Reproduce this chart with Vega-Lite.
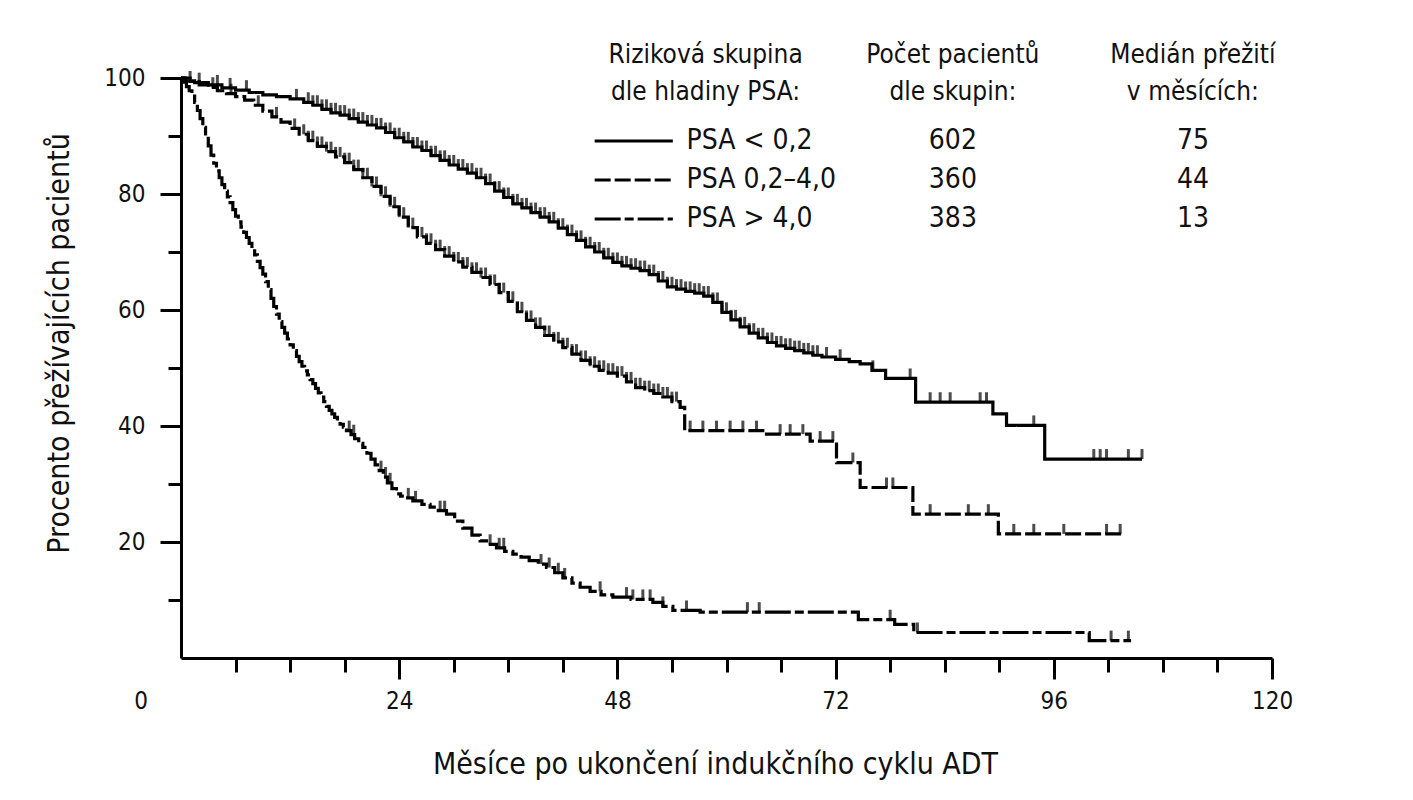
{
  "$schema": "https://vega.github.io/schema/vega-lite/v6.json",
  "width": 1091,
  "height": 580,
  "autosize": {"type": "none"},
  "padding": {"left": 181, "top": 78, "right": 141, "bottom": 142},
  "background": "white",
  "config": {
    "view": {"stroke": null},
    "font": "DejaVu Sans Condensed, sans-serif",
    "axis": {
      "domainColor": "black",
      "domainWidth": 3,
      "tickColor": "black",
      "tickWidth": 3,
      "labelColor": "#111111",
      "titleColor": "#111111",
      "labelFont": "DejaVu Sans Condensed, sans-serif",
      "titleFont": "DejaVu Sans Condensed, sans-serif",
      "labelFontSize": 24,
      "titleFontSize": 30,
      "titleFontWeight": "normal",
      "grid": false,
      "labelOverlap": false,
      "labelFlush": false
    }
  },
  "datasets": {
    "curves": [
      {"group": "a", "month": 0, "pct": 100}, {"group": "a", "month": 0.5, "pct": 99.5}, {"group": "a", "month": 1.5, "pct": 99.2},
      {"group": "a", "month": 3, "pct": 98.8}, {"group": "a", "month": 4.5, "pct": 98.3}, {"group": "a", "month": 6, "pct": 97.9},
      {"group": "a", "month": 7.5, "pct": 97.5}, {"group": "a", "month": 9, "pct": 97.1}, {"group": "a", "month": 10.5, "pct": 96.8},
      {"group": "a", "month": 12, "pct": 96.4}, {"group": "a", "month": 13.5, "pct": 95.8}, {"group": "a", "month": 14.5, "pct": 95.3},
      {"group": "a", "month": 15.5, "pct": 94.6}, {"group": "a", "month": 16.5, "pct": 94.0}, {"group": "a", "month": 17.5, "pct": 93.6},
      {"group": "a", "month": 18.5, "pct": 93.0}, {"group": "a", "month": 19.5, "pct": 92.4}, {"group": "a", "month": 20.5, "pct": 91.9},
      {"group": "a", "month": 21.5, "pct": 91.4}, {"group": "a", "month": 22.5, "pct": 90.6}, {"group": "a", "month": 23.5, "pct": 89.7},
      {"group": "a", "month": 24.5, "pct": 89.0}, {"group": "a", "month": 25.5, "pct": 88.1}, {"group": "a", "month": 26.5, "pct": 87.5},
      {"group": "a", "month": 27.5, "pct": 86.6}, {"group": "a", "month": 28.5, "pct": 85.8}, {"group": "a", "month": 29.5, "pct": 85.0},
      {"group": "a", "month": 30.5, "pct": 84.3}, {"group": "a", "month": 31.5, "pct": 83.6}, {"group": "a", "month": 32.5, "pct": 82.8},
      {"group": "a", "month": 33.5, "pct": 81.8}, {"group": "a", "month": 34.5, "pct": 80.5}, {"group": "a", "month": 35.5, "pct": 79.4},
      {"group": "a", "month": 36.5, "pct": 78.3}, {"group": "a", "month": 37.5, "pct": 77.6}, {"group": "a", "month": 38.5, "pct": 76.8},
      {"group": "a", "month": 39.5, "pct": 76.0}, {"group": "a", "month": 40.5, "pct": 75.2}, {"group": "a", "month": 41.5, "pct": 74.1},
      {"group": "a", "month": 42.5, "pct": 73.0}, {"group": "a", "month": 43.5, "pct": 72.0}, {"group": "a", "month": 44.5, "pct": 70.9},
      {"group": "a", "month": 45.5, "pct": 70.0}, {"group": "a", "month": 46.5, "pct": 69.0}, {"group": "a", "month": 47.5, "pct": 68.2},
      {"group": "a", "month": 48.5, "pct": 67.6}, {"group": "a", "month": 49.5, "pct": 67.2}, {"group": "a", "month": 50.5, "pct": 66.8},
      {"group": "a", "month": 51.5, "pct": 66.1}, {"group": "a", "month": 52.5, "pct": 65.0}, {"group": "a", "month": 53.5, "pct": 64.0},
      {"group": "a", "month": 54.5, "pct": 63.6}, {"group": "a", "month": 55.5, "pct": 63.2}, {"group": "a", "month": 56.5, "pct": 62.9},
      {"group": "a", "month": 57.5, "pct": 62.4}, {"group": "a", "month": 58.5, "pct": 61.3}, {"group": "a", "month": 59.5, "pct": 59.6},
      {"group": "a", "month": 60.5, "pct": 58.3}, {"group": "a", "month": 61.5, "pct": 57.1}, {"group": "a", "month": 62.5, "pct": 56.0},
      {"group": "a", "month": 63.5, "pct": 55.2}, {"group": "a", "month": 64.5, "pct": 54.4}, {"group": "a", "month": 65.5, "pct": 53.8},
      {"group": "a", "month": 66.5, "pct": 53.4}, {"group": "a", "month": 67.5, "pct": 53.0}, {"group": "a", "month": 68.5, "pct": 52.6},
      {"group": "a", "month": 69.5, "pct": 52.2}, {"group": "a", "month": 70.5, "pct": 51.9}, {"group": "a", "month": 72, "pct": 51.5},
      {"group": "a", "month": 73.5, "pct": 51.1}, {"group": "a", "month": 74.7, "pct": 50.7}, {"group": "a", "month": 76, "pct": 49.6},
      {"group": "a", "month": 77.5, "pct": 48.2}, {"group": "a", "month": 80.8, "pct": 44.1}, {"group": "a", "month": 89.3, "pct": 42.1},
      {"group": "a", "month": 90.8, "pct": 40.1}, {"group": "a", "month": 95.0, "pct": 34.3}, {"group": "a", "month": 105.7, "pct": 34.3},

      {"group": "b", "month": 0, "pct": 100}, {"group": "b", "month": 1, "pct": 99.4}, {"group": "b", "month": 2, "pct": 98.8},
      {"group": "b", "month": 3, "pct": 98.4}, {"group": "b", "month": 4, "pct": 97.8}, {"group": "b", "month": 5, "pct": 97.3},
      {"group": "b", "month": 6, "pct": 96.8}, {"group": "b", "month": 7, "pct": 96.2}, {"group": "b", "month": 8, "pct": 95.3},
      {"group": "b", "month": 9, "pct": 94.3}, {"group": "b", "month": 10, "pct": 93.3}, {"group": "b", "month": 11, "pct": 92.4},
      {"group": "b", "month": 12, "pct": 91.3}, {"group": "b", "month": 13, "pct": 90.3}, {"group": "b", "month": 14, "pct": 89.2},
      {"group": "b", "month": 15, "pct": 88.2}, {"group": "b", "month": 16, "pct": 87.3}, {"group": "b", "month": 17, "pct": 86.4},
      {"group": "b", "month": 18, "pct": 85.4}, {"group": "b", "month": 19, "pct": 84.2}, {"group": "b", "month": 20, "pct": 82.8},
      {"group": "b", "month": 21, "pct": 81.3}, {"group": "b", "month": 22, "pct": 79.6}, {"group": "b", "month": 23, "pct": 77.8},
      {"group": "b", "month": 24, "pct": 76.0}, {"group": "b", "month": 25, "pct": 74.2}, {"group": "b", "month": 26, "pct": 72.6},
      {"group": "b", "month": 27, "pct": 71.5}, {"group": "b", "month": 28, "pct": 70.4}, {"group": "b", "month": 29, "pct": 69.3},
      {"group": "b", "month": 30, "pct": 68.3}, {"group": "b", "month": 31, "pct": 67.4}, {"group": "b", "month": 32, "pct": 66.5},
      {"group": "b", "month": 33, "pct": 65.6}, {"group": "b", "month": 34, "pct": 64.4}, {"group": "b", "month": 35, "pct": 63.0},
      {"group": "b", "month": 36, "pct": 61.5}, {"group": "b", "month": 37, "pct": 59.7}, {"group": "b", "month": 38, "pct": 58.2},
      {"group": "b", "month": 39, "pct": 57.0}, {"group": "b", "month": 40, "pct": 55.6}, {"group": "b", "month": 41, "pct": 54.5},
      {"group": "b", "month": 42, "pct": 53.5}, {"group": "b", "month": 43, "pct": 52.4}, {"group": "b", "month": 44, "pct": 51.3},
      {"group": "b", "month": 45, "pct": 50.3}, {"group": "b", "month": 46, "pct": 49.6}, {"group": "b", "month": 47, "pct": 49.1},
      {"group": "b", "month": 48, "pct": 48.6}, {"group": "b", "month": 49, "pct": 47.6}, {"group": "b", "month": 50, "pct": 46.6},
      {"group": "b", "month": 51, "pct": 46.1}, {"group": "b", "month": 52, "pct": 45.6}, {"group": "b", "month": 53, "pct": 45.0},
      {"group": "b", "month": 54, "pct": 44.2}, {"group": "b", "month": 54.9, "pct": 43.2}, {"group": "b", "month": 55.4, "pct": 39.2},
      {"group": "b", "month": 64.4, "pct": 38.6}, {"group": "b", "month": 69.2, "pct": 37.4}, {"group": "b", "month": 72.1, "pct": 33.7},
      {"group": "b", "month": 74.7, "pct": 29.4}, {"group": "b", "month": 80.5, "pct": 24.8}, {"group": "b", "month": 89.9, "pct": 21.4},
      {"group": "b", "month": 103.5, "pct": 21.4},

      {"group": "c", "month": 0, "pct": 100}, {"group": "c", "month": 0.3, "pct": 99.3}, {"group": "c", "month": 0.6, "pct": 98.5},
      {"group": "c", "month": 0.9, "pct": 97.8}, {"group": "c", "month": 1.2, "pct": 96.9}, {"group": "c", "month": 1.5, "pct": 95.8},
      {"group": "c", "month": 1.8, "pct": 94.4}, {"group": "c", "month": 2.1, "pct": 93.0}, {"group": "c", "month": 2.4, "pct": 91.5},
      {"group": "c", "month": 2.7, "pct": 90.0}, {"group": "c", "month": 3.0, "pct": 88.3}, {"group": "c", "month": 3.3, "pct": 86.7},
      {"group": "c", "month": 3.6, "pct": 85.3}, {"group": "c", "month": 3.9, "pct": 84.0}, {"group": "c", "month": 4.2, "pct": 82.8},
      {"group": "c", "month": 4.5, "pct": 81.6}, {"group": "c", "month": 4.8, "pct": 80.5}, {"group": "c", "month": 5.1, "pct": 79.5},
      {"group": "c", "month": 5.4, "pct": 78.5}, {"group": "c", "month": 5.7, "pct": 77.3}, {"group": "c", "month": 6.0, "pct": 76.2},
      {"group": "c", "month": 6.3, "pct": 75.2}, {"group": "c", "month": 6.6, "pct": 74.3}, {"group": "c", "month": 6.9, "pct": 73.4},
      {"group": "c", "month": 7.2, "pct": 72.5}, {"group": "c", "month": 7.5, "pct": 71.5}, {"group": "c", "month": 7.8, "pct": 70.5},
      {"group": "c", "month": 8.1, "pct": 69.5}, {"group": "c", "month": 8.4, "pct": 68.4}, {"group": "c", "month": 8.7, "pct": 67.3},
      {"group": "c", "month": 9.0, "pct": 66.2}, {"group": "c", "month": 9.3, "pct": 64.9}, {"group": "c", "month": 9.6, "pct": 63.5},
      {"group": "c", "month": 9.9, "pct": 62.0}, {"group": "c", "month": 10.2, "pct": 60.6}, {"group": "c", "month": 10.5, "pct": 59.3},
      {"group": "c", "month": 10.8, "pct": 58.0}, {"group": "c", "month": 11.1, "pct": 57.0}, {"group": "c", "month": 11.4, "pct": 56.0},
      {"group": "c", "month": 11.7, "pct": 55.0}, {"group": "c", "month": 12.0, "pct": 54.0}, {"group": "c", "month": 12.35, "pct": 53.0},
      {"group": "c", "month": 12.7, "pct": 52.0}, {"group": "c", "month": 13.0, "pct": 51.1}, {"group": "c", "month": 13.3, "pct": 50.3},
      {"group": "c", "month": 13.6, "pct": 49.5}, {"group": "c", "month": 13.9, "pct": 48.8}, {"group": "c", "month": 14.2, "pct": 48.0},
      {"group": "c", "month": 14.5, "pct": 47.3}, {"group": "c", "month": 14.8, "pct": 46.5}, {"group": "c", "month": 15.1, "pct": 45.7},
      {"group": "c", "month": 15.4, "pct": 45.0}, {"group": "c", "month": 15.7, "pct": 44.2}, {"group": "c", "month": 16.0, "pct": 43.4},
      {"group": "c", "month": 16.3, "pct": 42.7}, {"group": "c", "month": 16.6, "pct": 42.1}, {"group": "c", "month": 16.9, "pct": 41.5},
      {"group": "c", "month": 17.2, "pct": 40.9}, {"group": "c", "month": 17.5, "pct": 40.3}, {"group": "c", "month": 17.85, "pct": 39.8},
      {"group": "c", "month": 18.2, "pct": 39.2}, {"group": "c", "month": 18.7, "pct": 38.5}, {"group": "c", "month": 19.1, "pct": 37.8},
      {"group": "c", "month": 19.55, "pct": 37.0}, {"group": "c", "month": 20.0, "pct": 36.3}, {"group": "c", "month": 20.45, "pct": 35.3},
      {"group": "c", "month": 20.9, "pct": 34.3}, {"group": "c", "month": 21.35, "pct": 33.3}, {"group": "c", "month": 21.8, "pct": 32.3},
      {"group": "c", "month": 22.25, "pct": 31.2}, {"group": "c", "month": 22.7, "pct": 30.2}, {"group": "c", "month": 23.2, "pct": 29.2},
      {"group": "c", "month": 23.7, "pct": 28.3}, {"group": "c", "month": 24.15, "pct": 27.9}, {"group": "c", "month": 24.6, "pct": 27.6},
      {"group": "c", "month": 25.5, "pct": 27.1}, {"group": "c", "month": 26.5, "pct": 26.5}, {"group": "c", "month": 27.4, "pct": 26.0},
      {"group": "c", "month": 28.3, "pct": 25.4}, {"group": "c", "month": 29.2, "pct": 24.8}, {"group": "c", "month": 30.1, "pct": 23.6},
      {"group": "c", "month": 31, "pct": 22.4}, {"group": "c", "month": 32, "pct": 21.2}, {"group": "c", "month": 32.9, "pct": 20.2},
      {"group": "c", "month": 33.8, "pct": 19.6}, {"group": "c", "month": 34.7, "pct": 19.0}, {"group": "c", "month": 35.6, "pct": 18.4},
      {"group": "c", "month": 36.5, "pct": 17.9}, {"group": "c", "month": 37.4, "pct": 17.4}, {"group": "c", "month": 38.3, "pct": 16.8},
      {"group": "c", "month": 39.3, "pct": 16.2}, {"group": "c", "month": 40.2, "pct": 15.6}, {"group": "c", "month": 41.1, "pct": 14.7},
      {"group": "c", "month": 42, "pct": 13.8}, {"group": "c", "month": 43, "pct": 12.9}, {"group": "c", "month": 43.9, "pct": 12.2},
      {"group": "c", "month": 45, "pct": 11.5}, {"group": "c", "month": 46.2, "pct": 10.9}, {"group": "c", "month": 47.5, "pct": 10.5},
      {"group": "c", "month": 49.5, "pct": 10.1}, {"group": "c", "month": 51.9, "pct": 9.6}, {"group": "c", "month": 53, "pct": 8.9},
      {"group": "c", "month": 54.1, "pct": 8.2}, {"group": "c", "month": 57.1, "pct": 7.9}, {"group": "c", "month": 74.5, "pct": 6.6},
      {"group": "c", "month": 78.5, "pct": 5.8}, {"group": "c", "month": 80.6, "pct": 4.4}, {"group": "c", "month": 99.9, "pct": 3.0},
      {"group": "c", "month": 104.5, "pct": 3.0}
    ],
    "censor": [
      {"group": "a", "month": 1, "pct": 99.5}, {"group": "a", "month": 2, "pct": 99.2}, {"group": "a", "month": 4, "pct": 98.8},
      {"group": "a", "month": 5.4, "pct": 98.3}, {"group": "a", "month": 7.2, "pct": 97.9}, {"group": "a", "month": 12.7, "pct": 96.4},
      {"group": "a", "month": 14, "pct": 95.8}, {"group": "a", "month": 14.5, "pct": 95.3}, {"group": "a", "month": 15, "pct": 95.3},
      {"group": "a", "month": 15.5, "pct": 94.6}, {"group": "a", "month": 16, "pct": 94.6}, {"group": "a", "month": 16.5, "pct": 94.0},
      {"group": "a", "month": 17, "pct": 94.0}, {"group": "a", "month": 17.5, "pct": 93.6}, {"group": "a", "month": 18, "pct": 93.6},
      {"group": "a", "month": 18.5, "pct": 93.0}, {"group": "a", "month": 19, "pct": 93.0}, {"group": "a", "month": 19.5, "pct": 92.4},
      {"group": "a", "month": 20, "pct": 92.4}, {"group": "a", "month": 20.5, "pct": 91.9}, {"group": "a", "month": 21, "pct": 91.9},
      {"group": "a", "month": 21.5, "pct": 91.4}, {"group": "a", "month": 22, "pct": 91.4}, {"group": "a", "month": 22.5, "pct": 90.6},
      {"group": "a", "month": 23, "pct": 90.6}, {"group": "a", "month": 23.5, "pct": 89.7}, {"group": "a", "month": 24, "pct": 89.7},
      {"group": "a", "month": 24.5, "pct": 89.0}, {"group": "a", "month": 25, "pct": 89.0}, {"group": "a", "month": 25.5, "pct": 88.1},
      {"group": "a", "month": 26, "pct": 88.1}, {"group": "a", "month": 26.5, "pct": 87.5}, {"group": "a", "month": 27, "pct": 87.5},
      {"group": "a", "month": 27.5, "pct": 86.6}, {"group": "a", "month": 28, "pct": 86.6}, {"group": "a", "month": 28.5, "pct": 85.8},
      {"group": "a", "month": 29, "pct": 85.8}, {"group": "a", "month": 29.5, "pct": 85.0}, {"group": "a", "month": 30, "pct": 85.0},
      {"group": "a", "month": 30.5, "pct": 84.3}, {"group": "a", "month": 31, "pct": 84.3}, {"group": "a", "month": 31.5, "pct": 83.6},
      {"group": "a", "month": 32, "pct": 83.6}, {"group": "a", "month": 32.5, "pct": 82.8}, {"group": "a", "month": 33, "pct": 82.8},
      {"group": "a", "month": 33.5, "pct": 81.8}, {"group": "a", "month": 34, "pct": 81.8}, {"group": "a", "month": 34.5, "pct": 80.5},
      {"group": "a", "month": 35, "pct": 80.5}, {"group": "a", "month": 35.5, "pct": 79.4}, {"group": "a", "month": 36, "pct": 79.4},
      {"group": "a", "month": 36.5, "pct": 78.3}, {"group": "a", "month": 37, "pct": 78.3}, {"group": "a", "month": 37.5, "pct": 77.6},
      {"group": "a", "month": 38, "pct": 77.6}, {"group": "a", "month": 38.5, "pct": 76.8}, {"group": "a", "month": 39, "pct": 76.8},
      {"group": "a", "month": 39.5, "pct": 76.0}, {"group": "a", "month": 40, "pct": 76.0}, {"group": "a", "month": 40.5, "pct": 75.2},
      {"group": "a", "month": 41, "pct": 75.2}, {"group": "a", "month": 41.5, "pct": 74.1}, {"group": "a", "month": 42, "pct": 74.1},
      {"group": "a", "month": 42.5, "pct": 73.0}, {"group": "a", "month": 43, "pct": 73.0}, {"group": "a", "month": 43.5, "pct": 72.0},
      {"group": "a", "month": 44, "pct": 72.0}, {"group": "a", "month": 44.5, "pct": 70.9}, {"group": "a", "month": 45, "pct": 70.9},
      {"group": "a", "month": 45.5, "pct": 70.0}, {"group": "a", "month": 46, "pct": 70.0}, {"group": "a", "month": 46.5, "pct": 69.0},
      {"group": "a", "month": 47, "pct": 69.0}, {"group": "a", "month": 47.5, "pct": 68.2}, {"group": "a", "month": 48, "pct": 68.2},
      {"group": "a", "month": 48.5, "pct": 67.6}, {"group": "a", "month": 49, "pct": 67.6}, {"group": "a", "month": 49.5, "pct": 67.2},
      {"group": "a", "month": 50, "pct": 67.2}, {"group": "a", "month": 50.5, "pct": 66.8}, {"group": "a", "month": 51, "pct": 66.8},
      {"group": "a", "month": 51.5, "pct": 66.1}, {"group": "a", "month": 52, "pct": 66.1}, {"group": "a", "month": 52.5, "pct": 65.0},
      {"group": "a", "month": 53, "pct": 65.0}, {"group": "a", "month": 53.5, "pct": 64.0}, {"group": "a", "month": 54, "pct": 64.0},
      {"group": "a", "month": 54.5, "pct": 63.6}, {"group": "a", "month": 55, "pct": 63.6}, {"group": "a", "month": 55.5, "pct": 63.2},
      {"group": "a", "month": 56, "pct": 63.2}, {"group": "a", "month": 56.5, "pct": 62.9}, {"group": "a", "month": 57, "pct": 62.9},
      {"group": "a", "month": 57.5, "pct": 62.4}, {"group": "a", "month": 58, "pct": 62.4}, {"group": "a", "month": 58.5, "pct": 61.3},
      {"group": "a", "month": 59, "pct": 61.3}, {"group": "a", "month": 59.5, "pct": 59.6}, {"group": "a", "month": 60, "pct": 59.6},
      {"group": "a", "month": 60.5, "pct": 58.3}, {"group": "a", "month": 61, "pct": 58.3}, {"group": "a", "month": 61.5, "pct": 57.1},
      {"group": "a", "month": 62, "pct": 57.1}, {"group": "a", "month": 62.5, "pct": 56.0}, {"group": "a", "month": 63, "pct": 56.0},
      {"group": "a", "month": 63.5, "pct": 55.2}, {"group": "a", "month": 64, "pct": 55.2}, {"group": "a", "month": 64.5, "pct": 54.4},
      {"group": "a", "month": 65, "pct": 54.4}, {"group": "a", "month": 65.5, "pct": 53.8}, {"group": "a", "month": 66, "pct": 53.8},
      {"group": "a", "month": 66.5, "pct": 53.4}, {"group": "a", "month": 67, "pct": 53.4}, {"group": "a", "month": 67.5, "pct": 53.0},
      {"group": "a", "month": 68, "pct": 53.0}, {"group": "a", "month": 68.5, "pct": 52.6}, {"group": "a", "month": 69, "pct": 52.6},
      {"group": "a", "month": 69.5, "pct": 52.2}, {"group": "a", "month": 70, "pct": 52.2}, {"group": "a", "month": 71, "pct": 51.9},
      {"group": "a", "month": 72.5, "pct": 51.5}, {"group": "a", "month": 76.1, "pct": 49.6}, {"group": "a", "month": 80.2, "pct": 48.2},
      {"group": "a", "month": 82.4, "pct": 44.1}, {"group": "a", "month": 83.5, "pct": 44.1}, {"group": "a", "month": 84.6, "pct": 44.1},
      {"group": "a", "month": 87.9, "pct": 44.1}, {"group": "a", "month": 88.6, "pct": 44.1}, {"group": "a", "month": 93.8, "pct": 40.1},
      {"group": "a", "month": 100.4, "pct": 34.3}, {"group": "a", "month": 101.1, "pct": 34.3}, {"group": "a", "month": 101.8, "pct": 34.3},
      {"group": "a", "month": 104.2, "pct": 34.3}, {"group": "a", "month": 105.7, "pct": 34.3},

      {"group": "b", "month": 3.5, "pct": 98.4}, {"group": "b", "month": 5.5, "pct": 97.3}, {"group": "b", "month": 8.5, "pct": 95.3},
      {"group": "b", "month": 10.5, "pct": 93.3}, {"group": "b", "month": 12.5, "pct": 91.3}, {"group": "b", "month": 13.5, "pct": 90.3},
      {"group": "b", "month": 14, "pct": 89.2}, {"group": "b", "month": 14.5, "pct": 89.2}, {"group": "b", "month": 15, "pct": 88.2},
      {"group": "b", "month": 15.5, "pct": 88.2}, {"group": "b", "month": 16, "pct": 87.3}, {"group": "b", "month": 16.5, "pct": 87.3},
      {"group": "b", "month": 17, "pct": 86.4}, {"group": "b", "month": 17.5, "pct": 86.4}, {"group": "b", "month": 18, "pct": 85.4},
      {"group": "b", "month": 18.5, "pct": 85.4}, {"group": "b", "month": 19, "pct": 84.2}, {"group": "b", "month": 19.5, "pct": 84.2},
      {"group": "b", "month": 20, "pct": 82.8}, {"group": "b", "month": 20.5, "pct": 82.8}, {"group": "b", "month": 21, "pct": 81.3},
      {"group": "b", "month": 21.5, "pct": 81.3}, {"group": "b", "month": 22, "pct": 79.6}, {"group": "b", "month": 22.5, "pct": 79.6},
      {"group": "b", "month": 23, "pct": 77.8}, {"group": "b", "month": 23.5, "pct": 77.8}, {"group": "b", "month": 24, "pct": 76.0},
      {"group": "b", "month": 24.5, "pct": 76.0}, {"group": "b", "month": 25, "pct": 74.2}, {"group": "b", "month": 25.5, "pct": 74.2},
      {"group": "b", "month": 26, "pct": 72.6}, {"group": "b", "month": 26.5, "pct": 72.6}, {"group": "b", "month": 27, "pct": 71.5},
      {"group": "b", "month": 27.5, "pct": 71.5}, {"group": "b", "month": 28, "pct": 70.4}, {"group": "b", "month": 28.5, "pct": 70.4},
      {"group": "b", "month": 29, "pct": 69.3}, {"group": "b", "month": 29.5, "pct": 69.3}, {"group": "b", "month": 30, "pct": 68.3},
      {"group": "b", "month": 30.5, "pct": 68.3}, {"group": "b", "month": 31, "pct": 67.4}, {"group": "b", "month": 31.5, "pct": 67.4},
      {"group": "b", "month": 32, "pct": 66.5}, {"group": "b", "month": 32.5, "pct": 66.5}, {"group": "b", "month": 33, "pct": 65.6},
      {"group": "b", "month": 33.5, "pct": 65.6}, {"group": "b", "month": 34, "pct": 64.4}, {"group": "b", "month": 34.5, "pct": 64.4},
      {"group": "b", "month": 35, "pct": 63.0}, {"group": "b", "month": 35.5, "pct": 63.0}, {"group": "b", "month": 36, "pct": 61.5},
      {"group": "b", "month": 36.5, "pct": 61.5}, {"group": "b", "month": 37, "pct": 59.7}, {"group": "b", "month": 37.5, "pct": 59.7},
      {"group": "b", "month": 38, "pct": 58.2}, {"group": "b", "month": 38.5, "pct": 58.2}, {"group": "b", "month": 39, "pct": 57.0},
      {"group": "b", "month": 39.5, "pct": 57.0}, {"group": "b", "month": 40, "pct": 55.6}, {"group": "b", "month": 40.5, "pct": 55.6},
      {"group": "b", "month": 41, "pct": 54.5}, {"group": "b", "month": 41.5, "pct": 54.5}, {"group": "b", "month": 42, "pct": 53.5},
      {"group": "b", "month": 42.5, "pct": 53.5}, {"group": "b", "month": 43, "pct": 52.4}, {"group": "b", "month": 43.5, "pct": 52.4},
      {"group": "b", "month": 44, "pct": 51.3}, {"group": "b", "month": 44.5, "pct": 51.3}, {"group": "b", "month": 45, "pct": 50.3},
      {"group": "b", "month": 45.5, "pct": 50.3}, {"group": "b", "month": 46, "pct": 49.6}, {"group": "b", "month": 46.5, "pct": 49.6},
      {"group": "b", "month": 47, "pct": 49.1}, {"group": "b", "month": 47.5, "pct": 49.1}, {"group": "b", "month": 48, "pct": 48.6},
      {"group": "b", "month": 48.5, "pct": 48.6}, {"group": "b", "month": 49, "pct": 47.6}, {"group": "b", "month": 49.5, "pct": 47.6},
      {"group": "b", "month": 50, "pct": 46.6}, {"group": "b", "month": 50.5, "pct": 46.6}, {"group": "b", "month": 51, "pct": 46.1},
      {"group": "b", "month": 51.5, "pct": 46.1}, {"group": "b", "month": 52, "pct": 45.6}, {"group": "b", "month": 52.5, "pct": 45.6},
      {"group": "b", "month": 53, "pct": 45.0}, {"group": "b", "month": 53.5, "pct": 45.0}, {"group": "b", "month": 54, "pct": 44.2},
      {"group": "b", "month": 54.5, "pct": 44.2}, {"group": "b", "month": 56.0, "pct": 39.2}, {"group": "b", "month": 57.4, "pct": 39.2},
      {"group": "b", "month": 58.9, "pct": 39.2}, {"group": "b", "month": 60.4, "pct": 39.2}, {"group": "b", "month": 61.8, "pct": 39.2},
      {"group": "b", "month": 63.3, "pct": 39.2}, {"group": "b", "month": 65.9, "pct": 38.6}, {"group": "b", "month": 67.0, "pct": 38.6},
      {"group": "b", "month": 68.4, "pct": 38.6}, {"group": "b", "month": 70.3, "pct": 37.4}, {"group": "b", "month": 71.7, "pct": 37.4},
      {"group": "b", "month": 73.9, "pct": 33.7}, {"group": "b", "month": 77.6, "pct": 29.4}, {"group": "b", "month": 78.3, "pct": 29.4},
      {"group": "b", "month": 82.4, "pct": 24.8}, {"group": "b", "month": 86.6, "pct": 24.8}, {"group": "b", "month": 88.8, "pct": 24.8},
      {"group": "b", "month": 91.6, "pct": 21.4}, {"group": "b", "month": 93.8, "pct": 21.4}, {"group": "b", "month": 97.1, "pct": 21.4},
      {"group": "b", "month": 101.8, "pct": 21.4}, {"group": "b", "month": 103.3, "pct": 21.4},

      {"group": "c", "month": 18.5, "pct": 39.2}, {"group": "c", "month": 19.0, "pct": 38.5}, {"group": "c", "month": 22.0, "pct": 32.3},
      {"group": "c", "month": 22.5, "pct": 31.2}, {"group": "c", "month": 23.0, "pct": 30.2}, {"group": "c", "month": 25.0, "pct": 27.6},
      {"group": "c", "month": 25.8, "pct": 27.1}, {"group": "c", "month": 28.5, "pct": 25.4}, {"group": "c", "month": 29.0, "pct": 25.4},
      {"group": "c", "month": 34.0, "pct": 19.6}, {"group": "c", "month": 35.0, "pct": 19.0}, {"group": "c", "month": 35.5, "pct": 19.0},
      {"group": "c", "month": 39.6, "pct": 16.2}, {"group": "c", "month": 40.5, "pct": 15.6}, {"group": "c", "month": 41.5, "pct": 14.7},
      {"group": "c", "month": 42.2, "pct": 13.8}, {"group": "c", "month": 46.1, "pct": 11.5}, {"group": "c", "month": 49.0, "pct": 10.5},
      {"group": "c", "month": 49.7, "pct": 10.1}, {"group": "c", "month": 50.8, "pct": 10.1}, {"group": "c", "month": 51.6, "pct": 10.1},
      {"group": "c", "month": 53.0, "pct": 8.9}, {"group": "c", "month": 55.6, "pct": 8.2}, {"group": "c", "month": 62.3, "pct": 7.9},
      {"group": "c", "month": 63.6, "pct": 7.9}, {"group": "c", "month": 78.0, "pct": 6.6}, {"group": "c", "month": 81.0, "pct": 4.4},
      {"group": "c", "month": 102.3, "pct": 3.0}, {"group": "c", "month": 104.2, "pct": 3.0}
    ],
    "table": [
      {"group": "a", "label": "PSA < 0,2", "n": 602, "median": 75},
      {"group": "b", "label": "PSA 0,2–4,0", "n": 360, "median": 44},
      {"group": "c", "label": "PSA > 4,0", "n": 383, "median": 13}
    ]
  },
  "resolve": {"scale": {"y": "independent"}},
  "layer": [
    {
      "layer": [
        {
          "data": {"name": "curves"},
          "mark": {"type": "line", "interpolate": "step-after", "strokeWidth": 3.2, "color": "black"},
          "encoding": {
            "x": {
              "field": "month",
              "type": "quantitative",
              "scale": {"domain": [0, 120], "nice": false},
              "axis": {
                "values": [6, 12, 18, 24, 30, 36, 42, 48, 54, 60, 66, 72, 78, 84, 90, 96, 102, 108, 114, 120],
                "labelExpr": "datum.value % 24 === 0 ? datum.label : ''",
                "tickSize": {"condition": {"test": "datum.value % 24 === 0", "value": 21}, "value": 14},
                "labelPadding": 10,
                "title": "Měsíce po ukončení indukčního cyklu ADT",
                "titleX": 534,
                "titleY": 106,
                "titleAlign": "center",
                "titleBaseline": "middle"
              }
            },
            "y": {
              "field": "pct",
              "type": "quantitative",
              "scale": {"domain": [0, 100], "nice": false},
              "axis": {
                "values": [10, 20, 30, 40, 50, 60, 70, 80, 90, 100],
                "labelExpr": "datum.value % 20 === 0 ? datum.label : ''",
                "tickSize": {"condition": {"test": "datum.value % 20 === 0", "value": 21}, "value": 13},
                "labelPadding": 15,
                "title": "Procento přežívajících pacientů",
                "titleX": -122,
                "titleY": 265,
                "titleAlign": "center",
                "titleBaseline": "middle"
              }
            },
            "strokeDash": {
              "field": "group",
              "type": "nominal",
              "scale": {"domain": ["a", "b", "c"], "range": [[1, 0], [16, 4], [26, 4, 9, 4]]},
              "legend": null
            }
          }
        },
        {
          "data": {"name": "censor"},
          "mark": {"type": "tick", "orient": "vertical", "size": 10, "thickness": 3, "yOffset": -5, "color": "black"},
          "encoding": {
            "x": {"field": "month", "type": "quantitative"},
            "y": {"field": "pct", "type": "quantitative"}
          }
        },
        {
          "data": {"values": [{}]},
          "mark": {"type": "text", "text": "0", "fontSize": 24, "color": "#111111", "align": "center", "baseline": "middle", "dx": -40, "dy": 44},
          "encoding": {"x": {"datum": 0}, "y": {"datum": 0}}
        },
        {
          "data": {"values": [{}]},
          "mark": {"type": "text", "text": ["Riziková skupina", "dle hladiny PSA:"], "fontSize": 26, "lineHeight": 37, "color": "#111111", "align": "center", "baseline": "alphabetic"},
          "encoding": {"x": {"datum": 57.7}, "y": {"datum": 102.6}}
        },
        {
          "data": {"values": [{}]},
          "mark": {"type": "text", "text": ["Počet pacientů", "dle skupin:"], "fontSize": 26, "lineHeight": 37, "color": "#111111", "align": "center", "baseline": "alphabetic"},
          "encoding": {"x": {"datum": 84.9}, "y": {"datum": 102.6}}
        },
        {
          "data": {"values": [{}]},
          "mark": {"type": "text", "text": ["Medián přežití", "v měsících:"], "fontSize": 26, "lineHeight": 37, "color": "#111111", "align": "center", "baseline": "alphabetic"},
          "encoding": {"x": {"datum": 111.3}, "y": {"datum": 102.6}}
        }
      ]
    },
    {
      "data": {"name": "table"},
      "encoding": {
        "y": {
          "field": "group",
          "type": "ordinal",
          "scale": {"type": "point", "domain": ["a", "b", "c"], "range": [63, 141], "padding": 0},
          "axis": null
        }
      },
      "layer": [
        {
          "mark": {"type": "rule", "strokeWidth": 3, "color": "black"},
          "encoding": {
            "x": {"datum": 45.5, "type": "quantitative"},
            "x2": {"datum": 54.1},
            "strokeDash": {"field": "group", "type": "nominal", "legend": null}
          }
        },
        {
          "mark": {"type": "text", "fontSize": 28, "color": "#111111", "align": "left", "baseline": "middle"},
          "encoding": {"x": {"datum": 55.6, "type": "quantitative"}, "text": {"field": "label"}}
        },
        {
          "mark": {"type": "text", "fontSize": 28, "color": "#111111", "align": "center", "baseline": "middle"},
          "encoding": {"x": {"datum": 84.9, "type": "quantitative"}, "text": {"field": "n"}}
        },
        {
          "mark": {"type": "text", "fontSize": 28, "color": "#111111", "align": "center", "baseline": "middle"},
          "encoding": {"x": {"datum": 111.3, "type": "quantitative"}, "text": {"field": "median"}}
        }
      ]
    }
  ]
}
